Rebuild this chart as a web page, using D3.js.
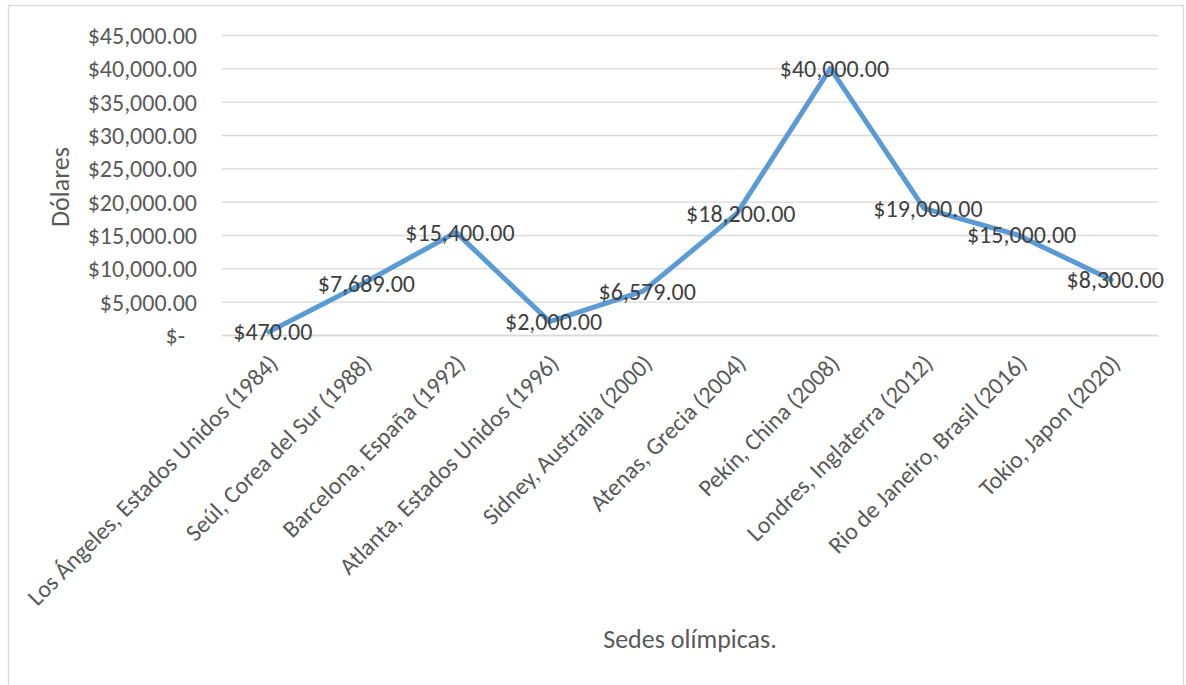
<!DOCTYPE html>
<html><head><meta charset="utf-8">
<script src="https://cdn.jsdelivr.net/npm/d3@7"></script>
<style>
html,body{margin:0;padding:0;background:#fff;}
svg{display:block;}
text{font-family:Carlito, Calibri, Lato, "Open Sans", sans-serif;}
</style></head>
<body><svg id="c" width="1186" height="685"></svg>
<script>
const categories = [
  "Los Ángeles, Estados Unidos (1984)",
  "Seúl, Corea del Sur (1988)",
  "Barcelona, España (1992)",
  "Atlanta, Estados Unidos (1996)",
  "Sidney, Australia (2000)",
  "Atenas, Grecia (2004)",
  "Pekín, China (2008)",
  "Londres, Inglaterra (2012)",
  "Rio de Janeiro, Brasil (2016)",
  "Tokio, Japon (2020)"
];
const values = [470, 7689, 15400, 2000, 6579, 18200, 40000, 19000, 15000, 8300];
const yTicks = [0, 5000, 10000, 15000, 20000, 25000, 30000, 35000, 40000, 45000];
const yTitle = "Dólares";
const xTitle = "Sedes olímpicas.";

(function(){
const svg = d3.select("#c");
const mLeft = 222, mRight = 1158, mTop = 35, mBottom = 335;

// frame
svg.append("rect").attr("x", 8.5).attr("y", 5.5).attr("width", 1175).attr("height", 690)
  .attr("fill", "#fff").attr("stroke", "#d9d9d9").attr("stroke-width", 1.3);

const x = d3.scalePoint().domain(categories).range([mLeft, mRight]).padding(0.5);
const y = d3.scaleLinear().domain([0, 45000]).range([mBottom, mTop]);

const fmt = v => v === 0 ? "$-" : "$" + d3.format(",.2f")(v);

// gridlines + y labels
const yAxis = d3.axisLeft(y).tickValues(yTicks).tickSize(-(mRight - mLeft)).tickPadding(25).tickFormat(fmt);
const gy = svg.append("g").attr("transform", `translate(${mLeft},0)`).call(yAxis);
gy.select(".domain").remove();
gy.selectAll(".tick line").attr("stroke", "#d9d9d9").attr("stroke-width", 1.3);
gy.selectAll(".tick text").attr("fill", "#595959").style("font-size", "24px")
  .attr("dy", "0.35em");
gy.selectAll(".tick").filter(d => d === 0).select("text").attr("dx", -12);

// x axis labels rotated
const xAxis = d3.axisBottom(x).tickSize(0).tickPadding(0);
const gx = svg.append("g").attr("transform", `translate(0,${mBottom})`).call(xAxis);
gx.select(".domain").attr("stroke", "#d9d9d9").attr("stroke-width", 1.3);
gx.selectAll(".tick text").attr("fill", "#595959").style("font-size", "24px")
  .attr("text-anchor", "end")
  .attr("transform", "translate(4,24) rotate(-45)")
  .attr("dy", "0.35em").attr("y", 0).attr("x", 0);

// line
const line = d3.line().x((d, i) => x(categories[i])).y(d => y(d));
svg.append("path").datum(values).attr("d", line)
  .attr("fill", "none").attr("stroke", "#5b9bd5").attr("stroke-width", 5)
  .attr("stroke-linejoin", "round").attr("stroke-linecap", "round");

// data labels
svg.append("g").selectAll("text").data(values).join("text")
  .attr("x", (d, i) => x(categories[i]) + 4)
  .attr("y", d => y(d))
  .attr("dy", "0.35em")
  .attr("text-anchor", "middle")
  .attr("fill", "#404040").style("font-size", "24px")
  .text(d => fmt(d));

// axis titles
svg.append("text").attr("transform", "translate(69,187) rotate(-90)")
  .attr("text-anchor", "middle").attr("fill", "#595959").style("font-size", "26px").text(yTitle);
svg.append("text").attr("x", 690).attr("y", 648)
  .attr("text-anchor", "middle").attr("fill", "#595959").style("font-size", "26px").text(xTitle);
})();
</script></body></html>
